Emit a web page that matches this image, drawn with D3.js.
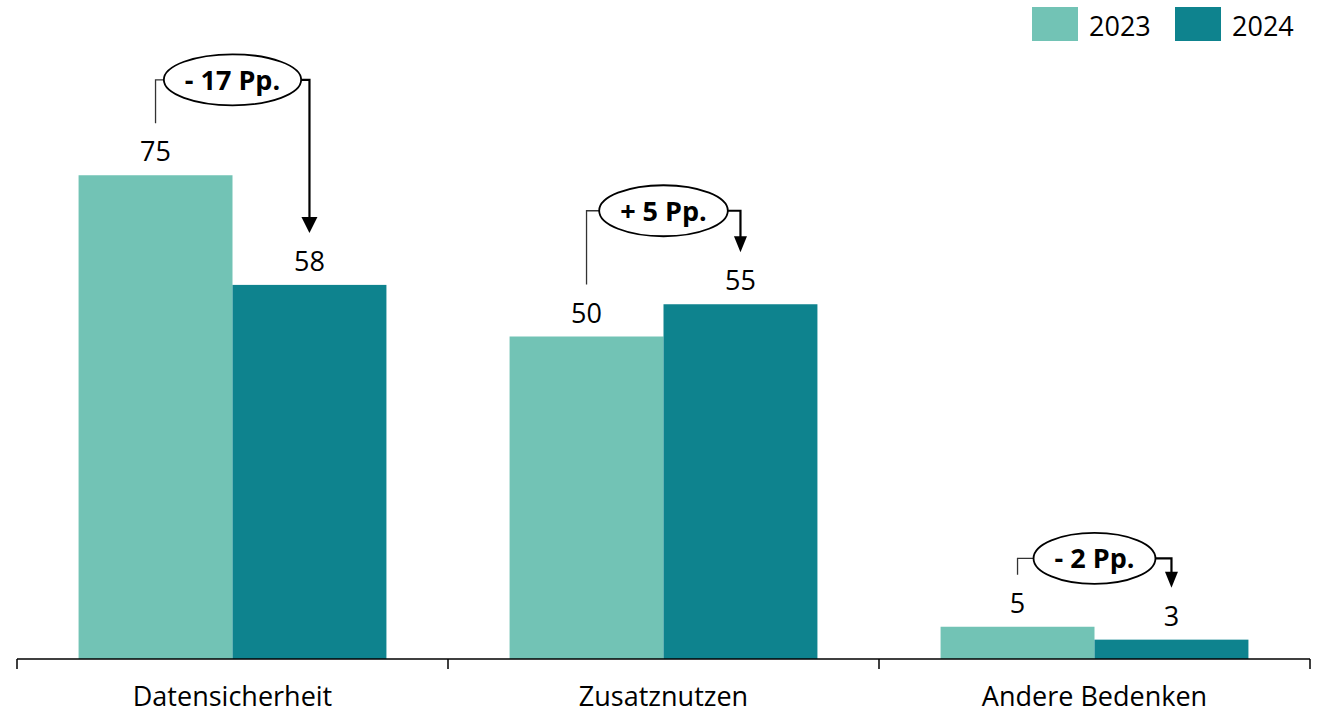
<!DOCTYPE html>
<html>
<head>
<meta charset="utf-8">
<script src="https://cdn.jsdelivr.net/npm/d3@7"></script>
<style>
  body { margin: 0; background: #fff; }
  svg text { font-family: "Open Sans", "Noto Sans", sans-serif; fill: #000; }
</style>
</head>
<body>
<div class="chart"></div>
<script>
(function(){

//chart data
var categories = ["Datensicherheit", "Zusatznutzen", "Andere Bedenken"];
var years = ["2023", "2024"];
var values2023 = [75, 50, 5];
var values2024 = [58, 55, 3];
var changeLabels = ["- 17 Pp.", "+ 5 Pp.", "- 2 Pp."];
var bracketLevel = [89.8, 69.5, 15.6];   //level of the change bracket, in percent units

var colors = ["#72c3b5", "#0e838e"];

window.onload = drawChart();

function drawChart(){

    var width = 1324,
        height = 714;

    var svg = d3.select(".chart")
        .append("svg")
        .attr("width", width)
        .attr("height", height);

    var x0 = d3.scaleBand()
        .domain(categories)
        .range([17, 1310]);

    var x1 = d3.scaleBand()
        .domain(years)
        .range([0, x0.bandwidth()])
        .paddingOuter(0.4);

    var y = d3.scaleLinear()
        .domain([0, 100])
        .range([659, 14]);

    var color = d3.scaleOrdinal()
        .domain(years)
        .range(colors);

    var rows = categories.map(function(c, i){
        return {cat: c, vals: [values2023[i], values2024[i]], label: changeLabels[i], level: bracketLevel[i]};
    });

    //bars
    var groups = svg.selectAll(".group")
        .data(rows)
        .enter()
        .append("g")
        .attr("class", "group")
        .attr("transform", function(d){ return "translate(" + x0(d.cat) + ",0)"; });

    groups.selectAll("rect")
        .data(function(d){ return d.vals.map(function(v, j){ return {year: years[j], v: v}; }); })
        .enter()
        .append("rect")
        .attr("x", function(d){ return x1(d.year); })
        .attr("width", x1.bandwidth())
        .attr("y", function(d){ return y(d.v); })
        .attr("height", function(d){ return y(0) - y(d.v); })
        .style("fill", function(d){ return color(d.year); });

    //value labels
    groups.selectAll(".val")
        .data(function(d){ return d.vals.map(function(v, j){ return {year: years[j], v: v}; }); })
        .enter()
        .append("text")
        .attr("class", "val")
        .attr("x", function(d){ return x1(d.year) + x1.bandwidth() / 2; })
        .attr("y", function(d){ return y(d.v) - 14; })
        .attr("text-anchor", "middle")
        .style("font-size", "27px")
        .text(function(d){ return d.v; });

    //change brackets
    groups.each(function(d){
        var g = d3.select(this);
        var xa = x1(years[0]) + x1.bandwidth() / 2,
            xb = x1(years[1]) + x1.bandwidth() / 2,
            xm = x0.bandwidth() / 2,
            yl = y(d.level),
            ya = y(d.vals[0]) - 52,
            yb = y(d.vals[1]) - 52;

        g.append("path")
            .attr("d", "M" + xa + "," + ya + "V" + yl + "H" + xm)
            .style("fill", "none")
            .style("stroke", "#333")
            .style("stroke-width", 1.3);

        g.append("path")
            .attr("d", "M" + xm + "," + yl + "H" + xb + "V" + (yb - 12))
            .style("fill", "none")
            .style("stroke", "#000")
            .style("stroke-width", 2.2);

        var head = d.vals[0] > 60 ? 8 : 6.5;
        g.append("path")
            .attr("d", "M" + (xb - head) + "," + (yb - 16) + "L" + (xb + head) + "," + (yb - 16) + "L" + xb + "," + yb + "Z")
            .style("fill", "#000");

        var ell = g.append("ellipse")
            .attr("cx", xm)
            .attr("cy", yl)
            .style("fill", "#fff")
            .style("stroke", "#000")
            .style("stroke-width", 1.8);

        var t = g.append("text")
            .attr("x", xm)
            .attr("y", yl + 10)
            .attr("text-anchor", "middle")
            .style("font-size", "27px")
            .style("font-weight", "bold")
            .text(d.label);

        var w = t.node().getComputedTextLength();
        ell.attr("rx", w / 2 + 21).attr("ry", 25.5);
    });

    //axis
    var axis = svg.append("g").attr("class", "axis");
    var tickX = categories.map(function(c){ return x0(c); }).concat([x0.range()[1]]);

    axis.append("line")
        .attr("x1", x0.range()[0])
        .attr("x2", x0.range()[1])
        .attr("y1", y(0))
        .attr("y2", y(0))
        .style("stroke", "#000")
        .style("stroke-width", 1.5);

    axis.selectAll(".tick")
        .data(tickX)
        .enter()
        .append("line")
        .attr("class", "tick")
        .attr("x1", function(d){ return d; })
        .attr("x2", function(d){ return d; })
        .attr("y1", y(0))
        .attr("y2", y(0) + 10)
        .style("stroke", "#000")
        .style("stroke-width", 1.5);

    axis.selectAll(".cat")
        .data(categories)
        .enter()
        .append("text")
        .attr("class", "cat")
        .attr("x", function(d){ return x0(d) + x0.bandwidth() / 2; })
        .attr("y", 706)
        .attr("text-anchor", "middle")
        .style("font-size", "27px")
        .text(function(d){ return d; });

    //legend
    var legendX = [1032, 1175];
    var legend = svg.selectAll(".legend")
        .data(years)
        .enter()
        .append("g")
        .attr("class", "legend")
        .attr("transform", function(d, i){ return "translate(" + legendX[i] + ",7)"; });

    legend.append("rect")
        .attr("width", 46)
        .attr("height", 34)
        .style("fill", function(d){ return color(d); });

    legend.append("text")
        .attr("x", 57)
        .attr("y", 29)
        .style("font-size", "27px")
        .text(function(d){ return d; });
}

})();
</script>
</body>
</html>
